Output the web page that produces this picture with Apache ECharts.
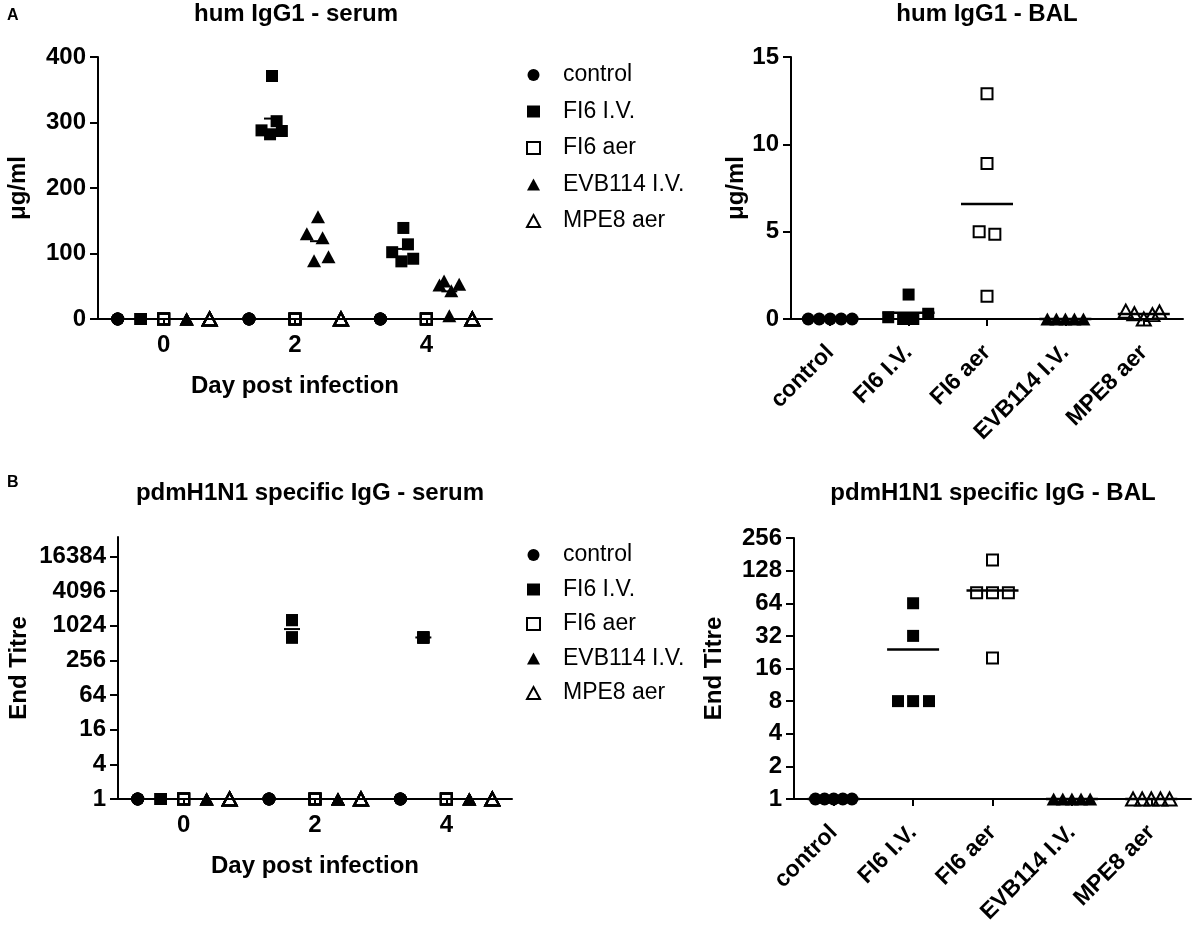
<!DOCTYPE html>
<html>
<head>
<meta charset="utf-8">
<script src="https://cdn.jsdelivr.net/npm/echarts@6/dist/echarts.min.js"></script>
<style>
  html, body { margin: 0; background: #fff; }
  #chart { width: 1192px; height: 932px; }
</style>
</head>
<body>
<div id="chart"></div>
<script>
const FONT = '"Liberation Sans", Arial, sans-serif';

const groups = ["control", "FI6 I.V.", "FI6 aer", "EVB114 I.V.", "MPE8 aer"];
const days = [0, 2, 4];
// where each group sits next to its day, in days
const groupOffsets = [-0.7, -0.35, 0, 0.35, 0.7];

const serumTitreTicks = [1, 4, 16, 64, 256, 1024, 4096, 16384];
const balTitreTicks = [1, 2, 4, 8, 16, 32, 64, 128, 256];
const groupTicks = [0, 1, 2, 3, 4];

// hum IgG1 in serum (µg/ml): one row per day (0, 2, 4), five mice per row
const serumIgg1Control = [[0, 0, 0, 0, 0], [0, 0, 0, 0, 0], [0, 0, 0, 0, 0]];
const serumIgg1Fi6iv = [[0, 0, 0, 0, 0], [371, 302, 288, 282, 287], [139, 114, 102, 88, 92]];
const serumIgg1Fi6aer = [[0, 0, 0, 0, 0], [0, 0, 0, 0, 0], [0, 0, 0, 0, 0]];
const serumIgg1Evb = [[0, 0, 0, 0, 0], [156, 130, 124, 89, 95], [58, 52, 43, 53, 5]];
const serumIgg1Mpe8 = [[0, 0, 0, 0, 0], [0, 0, 0, 0, 0], [0, 0, 0, 0, 0]];
// sideways scatter of the mice inside a group (days)
const serumIgg1Fi6ivSpread = [[0, 0, 0, 0, 0], [0, 0.07, -0.16, -0.03, 0.15], [0, 0.07, -0.17, -0.03, 0.15]];
const serumIgg1EvbSpread = [[0, 0, 0, 0, 0], [0, -0.17, 0.07, -0.06, 0.16], [-0.08, -0.15, 0.03, 0.15, 0]];

// pdmH1N1 specific IgG in serum (end titre)
const serumPdmControl = [[1, 1, 1, 1, 1], [1, 1, 1, 1, 1], [1, 1, 1, 1, 1]];
const serumPdmFi6iv = [[1, 1, 1, 1, 1], [1280, 1280, 640, 640, 640], [640, 640, 640, 640, 640]];
const serumPdmFi6aer = [[1, 1, 1, 1, 1], [1, 1, 1, 1, 1], [1, 1, 1, 1, 1]];
const serumPdmEvb = [[1, 1, 1, 1, 1], [1, 1, 1, 1, 1], [1, 1, 1, 1, 1]];
const serumPdmMpe8 = [[1, 1, 1, 1, 1], [1, 1, 1, 1, 1], [1, 1, 1, 1, 1]];

// hum IgG1 in BAL (µg/ml), five mice per group
const balIgg1Control = [0, 0, 0, 0, 0];
const balIgg1Fi6iv = [1.4, 0.1, 0, 0, 0.3];
const balIgg1Fi6aer = [12.9, 8.9, 5.0, 4.85, 1.3];
const balIgg1Evb = [0, 0, 0, 0, 0];
const balIgg1Mpe8 = [0.45, 0.3, 0, 0.25, 0.4];
const balIgg1Spread = [
  [-0.28, -0.14, 0, 0.14, 0.28],
  [0, -0.26, -0.07, 0.06, 0.25],
  [0, 0, -0.1, 0.1, 0],
  [-0.23, -0.115, 0, 0.115, 0.23],
  [-0.23, -0.12, 0, 0.11, 0.2]
];

// pdmH1N1 specific IgG in BAL (end titre)
const balPdmControl = [1, 1, 1, 1, 1];
const balPdmFi6iv = [64, 32, 8, 8, 8];
const balPdmFi6aer = [160, 80, 80, 80, 20];
const balPdmEvb = [1, 1, 1, 1, 1];
const balPdmMpe8 = [1, 1, 1, 1, 1];
const balPdmSpread = [
  [-0.23, -0.115, 0, 0.115, 0.23],
  [0, 0, -0.19, 0, 0.2],
  [0, -0.2, 0, 0.2, 0],
  [-0.23, -0.115, 0, 0.115, 0.23],
  [-0.23, -0.115, 0, 0.115, 0.23]
];

const markerStyles = [
  { symbol: "circle", symbolSize: 13, itemStyle: { color: "#000", opacity: 1 } },
  { symbol: "rect", symbolSize: 12, itemStyle: { color: "#000", opacity: 1 } },
  { symbol: "rect", symbolSize: 11, itemStyle: { color: "transparent", borderColor: "#000", borderWidth: 2, opacity: 1 } },
  { symbol: "triangle", symbolSize: [14, 13], itemStyle: { color: "#000", opacity: 1 } },
  { symbol: "triangle", symbolSize: [14, 13], itemStyle: { color: "transparent", borderColor: "#000", borderWidth: 2, opacity: 1 } }
];

const zeroSpread = [[0, 0, 0, 0, 0], [0, 0, 0, 0, 0], [0, 0, 0, 0, 0]];

function mean(arr) {
  return arr.reduce((s, v) => s + v, 0) / arr.length;
}

function serumSeries(gridIdx, byGroup, spreads) {
  const out = [];
  const means = [];
  byGroup.forEach((rows, g) => {
    const data = [];
    rows.forEach((vals, di) => {
      const x0 = days[di] + groupOffsets[g];
      vals.forEach((v, k) => data.push([x0 + spreads[g][di][k], v]));
      means.push([x0, mean(vals)]);
    });
    out.push(Object.assign({
      type: "scatter", name: groups[g], xAxisIndex: gridIdx, yAxisIndex: gridIdx,
      data, silent: true, z: 2
    }, markerStyles[g]));
  });
  out.push({
    type: "scatter", name: "mean", xAxisIndex: gridIdx, yAxisIndex: gridIdx,
    data: means, symbol: "rect", symbolSize: [16, 2], itemStyle: { color: "#000", opacity: 1 }, silent: true, z: 3
  });
  return out;
}

function balSeries(gridIdx, byGroup, spreads) {
  const out = [];
  const means = [];
  byGroup.forEach((vals, g) => {
    out.push(Object.assign({
      type: "scatter", name: groups[g], xAxisIndex: gridIdx, yAxisIndex: gridIdx,
      data: vals.map((v, k) => [g + spreads[g][k], v]), silent: true, z: 2
    }, markerStyles[g]));
    means.push([g, mean(vals)]);
  });
  out.push({
    type: "scatter", name: "mean", xAxisIndex: gridIdx, yAxisIndex: gridIdx,
    data: means, symbol: "rect", symbolSize: [52, 2.5], itemStyle: { color: "#000", opacity: 1 }, silent: true, z: 3
  });
  return out;
}

const lineStyle = { color: "#000", width: 2 };
const tickText = { color: "#000", fontFamily: FONT, fontWeight: "bold", fontSize: 24 };
const nameText = { color: "#000", fontFamily: FONT, fontWeight: "bold", fontSize: 24 };

function dayAxis(gridIndex) {
  return {
    type: "value", gridIndex, min: -1, max: 5,
    axisLine: { show: true, onZero: false, lineStyle },
    axisTick: { show: true, customValues: days, length: 6, lineStyle },
    axisLabel: Object.assign({ customValues: days, margin: 14 }, tickText),
    splitLine: { show: false },
    name: "Day post infection", nameLocation: "middle", nameGap: 55, nameTextStyle: nameText
  };
}

function groupAxis(gridIndex) {
  return {
    type: "value", gridIndex, min: -0.5, max: 4.5,
    axisLine: { show: true, onZero: false, lineStyle },
    axisTick: { show: true, customValues: groupTicks, length: 7, lineStyle },
    axisLabel: Object.assign({
      customValues: groupTicks, rotate: 45, margin: 30,
      formatter: (v) => groups[Math.round(v)]
    }, tickText, { fontSize: 23 }),
    splitLine: { show: false }
  };
}

function valueAxis(gridIndex, max, interval, name, gap) {
  return {
    type: "value", gridIndex, min: 0, max, interval,
    axisLine: { show: true, onZero: false, lineStyle },
    axisTick: { show: true, length: 8, lineStyle },
    axisLabel: Object.assign({ margin: 12 }, tickText),
    splitLine: { show: false },
    name, nameLocation: "middle", nameGap: gap, nameTextStyle: nameText
  };
}

function titreAxis(gridIndex, max, ticks, gap) {
  return {
    type: "log", logBase: 2, gridIndex, min: 1, max,
    axisLine: { show: true, onZero: false, lineStyle },
    axisTick: { show: true, customValues: ticks, length: 8, lineStyle },
    axisLabel: Object.assign({ customValues: ticks, margin: 12, formatter: (v) => String(Math.round(v)) }, tickText),
    splitLine: { show: false },
    name: "End Titre", nameLocation: "middle", nameGap: gap, nameTextStyle: nameText
  };
}

function groupLegend(top, gap) {
  return {
    data: groups, orient: "vertical", left: 526, top, padding: 0,
    itemGap: gap, itemWidth: 13, itemHeight: 12, selectedMode: false,
    textStyle: { fontFamily: FONT, fontSize: 23, color: "#000", lineHeight: 24, padding: [0, 0, 0, 18] }
  };
}

function title(text, left, top, size, align) {
  return {
    text, left, top, padding: 0, textAlign: align,
    textStyle: { fontFamily: FONT, fontWeight: "bold", fontSize: size, color: "#000" }
  };
}

const chart = echarts.init(document.getElementById("chart"));

chart.setOption({
  animation: false,
  backgroundColor: "#fff",
  title: [
    title("A", 7, 8, 16, "left"),
    title("hum IgG1 - serum", 296, 2, 24, "center"),
    title("hum IgG1 - BAL", 987, 2, 24, "center"),
    title("B", 7, 475, 16, "left"),
    title("pdmH1N1 specific IgG - serum", 310, 481, 24, "center"),
    title("pdmH1N1 specific IgG - BAL", 993, 481, 24, "center")
  ],
  legend: [groupLegend(63, 12.5), groupLegend(543, 10.5)],
  grid: [
    { left: 98, top: 57, width: 394, height: 262 },
    { left: 791, top: 57, width: 392, height: 262 },
    { left: 118, top: 537, width: 394, height: 262 },
    { left: 794, top: 538, width: 397, height: 261 }
  ],
  xAxis: [dayAxis(0), groupAxis(1), dayAxis(2), groupAxis(3)],
  yAxis: [
    valueAxis(0, 400, 100, "\u03bcg/ml", 68),
    valueAxis(1, 15, 5, "\u03bcg/ml", 30),
    titreAxis(2, 35600, serumTitreTicks, 87),
    titreAxis(3, 256, balTitreTicks, 68)
  ],
  series: [].concat(
    serumSeries(0,
      [serumIgg1Control, serumIgg1Fi6iv, serumIgg1Fi6aer, serumIgg1Evb, serumIgg1Mpe8],
      [zeroSpread, serumIgg1Fi6ivSpread, zeroSpread, serumIgg1EvbSpread, zeroSpread]),
    balSeries(1, [balIgg1Control, balIgg1Fi6iv, balIgg1Fi6aer, balIgg1Evb, balIgg1Mpe8], balIgg1Spread),
    serumSeries(2,
      [serumPdmControl, serumPdmFi6iv, serumPdmFi6aer, serumPdmEvb, serumPdmMpe8],
      [zeroSpread, zeroSpread, zeroSpread, zeroSpread, zeroSpread]),
    balSeries(3, [balPdmControl, balPdmFi6iv, balPdmFi6aer, balPdmEvb, balPdmMpe8], balPdmSpread)
  )
});
</script>
</body>
</html>
